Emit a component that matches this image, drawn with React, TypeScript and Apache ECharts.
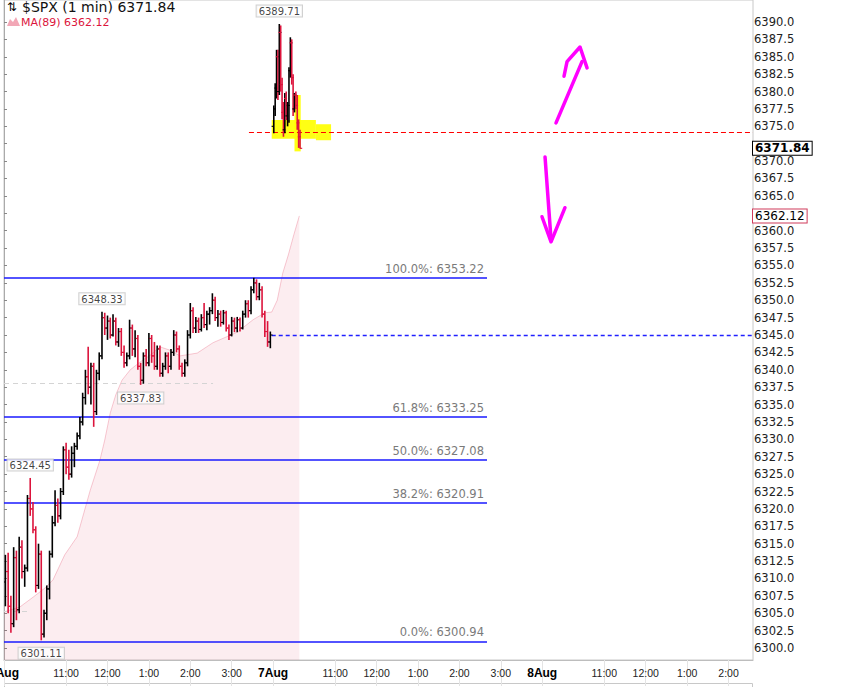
import * as echarts from "echarts";
import { useEffect, useRef } from "react";

// x = minutes since 6 Aug 9:30 (390 minutes per session, sessions back to back)
const xTickValues = [0, 90, 150, 210, 270, 330, 390, 480, 540, 600, 660, 720, 780, 870, 930, 990, 1050];
const xTickLabels = ["6Aug", "11:00", "12:00", "1:00", "2:00", "3:00", "7Aug", "11:00", "12:00", "1:00", "2:00", "3:00", "8Aug", "11:00", "12:00", "1:00", "2:00"];

const yTickValues = [
  6300, 6302.5, 6305, 6307.5, 6310, 6312.5, 6315, 6317.5, 6320, 6322.5, 6325, 6327.5, 6330,
  6332.5, 6335, 6337.5, 6340, 6342.5, 6345, 6347.5, 6350, 6352.5, 6355, 6357.5, 6360, 6362.5,
  6365, 6367.5, 6370, 6372.5, 6375, 6377.5, 6380, 6382.5, 6385, 6387.5, 6390
];
// labels hidden behind the price tags on the axis
const yHiddenLabels = [6372.5, 6362.5];

// [minute, open, high, low, close]
const bars: number[][] = [
  [2, 6309.5, 6313.4, 6306.0, 6311.0],
  [6, 6311.0, 6313.7, 6305.0, 6306.0],
  [10, 6306.0, 6307.5, 6302.2, 6303.5],
  [14, 6303.5, 6314.5, 6303.0, 6313.0],
  [18, 6313.0, 6314.0, 6304.0, 6305.5],
  [22, 6305.5, 6316.0, 6305.0, 6314.5],
  [26, 6314.5, 6315.5, 6310.0, 6311.0],
  [30, 6311.0, 6312.0, 6308.8, 6311.5],
  [34, 6311.5, 6322.0, 6311.0, 6321.5],
  [38, 6321.5, 6324.45, 6319.0, 6320.0],
  [42, 6320.0, 6321.0, 6316.5, 6317.0],
  [46, 6317.0, 6317.5, 6308.0, 6309.0],
  [50, 6309.0, 6315.0, 6308.5, 6313.5],
  [54, 6313.5, 6314.0, 6301.11, 6302.0],
  [58, 6302.0, 6305.5, 6301.5, 6305.0],
  [62, 6305.0, 6309.0, 6304.0, 6308.5],
  [66, 6308.5, 6314.0, 6307.0, 6313.5],
  [70, 6313.5, 6319.0, 6313.0, 6318.0],
  [74, 6318.0, 6322.7, 6317.5, 6320.5],
  [78, 6320.5, 6321.5, 6318.0, 6319.0],
  [82, 6319.0, 6323.0, 6318.5, 6322.5],
  [86, 6322.5, 6329.0, 6322.0, 6328.5],
  [90, 6328.5, 6329.5, 6325.0, 6326.0],
  [94, 6326.0, 6328.5, 6324.2, 6325.0],
  [98, 6325.0, 6329.0, 6324.5, 6328.0],
  [102, 6328.0, 6329.5, 6326.0, 6329.0],
  [106, 6329.0, 6331.0, 6328.5, 6330.5],
  [110, 6330.5, 6333.2, 6330.0, 6332.5],
  [114, 6332.5, 6336.7, 6332.0, 6336.0],
  [118, 6336.0, 6340.0, 6335.0, 6339.0],
  [122, 6339.0, 6343.3, 6336.5, 6337.5],
  [126, 6337.5, 6341.0, 6335.0, 6340.5],
  [130, 6340.5, 6341.0, 6331.8, 6334.0],
  [134, 6334.0, 6340.0, 6333.5, 6339.5],
  [138, 6339.5, 6342.5, 6338.5, 6342.0],
  [142, 6342.0, 6348.33, 6341.5, 6347.5],
  [146, 6347.5, 6348.2, 6345.0, 6346.0],
  [150, 6346.0, 6347.8, 6344.3, 6347.0],
  [154, 6347.0, 6347.5, 6344.5, 6345.0],
  [158, 6345.0, 6348.0, 6344.8, 6347.0],
  [162, 6347.0, 6347.5, 6343.5, 6344.0],
  [166, 6344.0, 6346.0, 6343.3, 6345.5],
  [170, 6345.5, 6346.0, 6342.0, 6342.5],
  [174, 6342.5, 6343.5, 6340.3, 6341.0],
  [178, 6341.0, 6342.5, 6340.5, 6342.0],
  [182, 6342.0, 6347.2, 6341.5, 6346.0],
  [186, 6346.0, 6346.5, 6342.0, 6343.0],
  [190, 6343.0, 6345.7, 6341.8, 6344.5],
  [194, 6344.5, 6345.0, 6340.0, 6340.5],
  [198, 6340.5, 6341.0, 6337.83, 6338.5],
  [202, 6338.5, 6342.5, 6338.0, 6342.0],
  [206, 6342.0, 6343.0, 6340.5, 6341.0],
  [210, 6341.0, 6345.3, 6340.5, 6344.5],
  [214, 6344.5, 6345.0, 6341.0, 6342.0],
  [218, 6342.0, 6344.0, 6340.0, 6340.5],
  [222, 6340.5, 6343.5, 6340.0, 6343.0],
  [226, 6343.0, 6343.5, 6339.0, 6339.5],
  [230, 6339.5, 6341.0, 6339.0, 6340.5],
  [234, 6340.5, 6342.5, 6340.0, 6342.0],
  [238, 6342.0, 6342.5, 6339.5, 6340.5],
  [242, 6340.5, 6343.0, 6340.0, 6342.5],
  [246, 6342.5, 6345.7, 6342.0, 6345.0],
  [250, 6345.0, 6345.5, 6342.5, 6343.0],
  [254, 6343.0, 6343.5, 6340.0, 6340.5],
  [258, 6340.5, 6341.0, 6339.0, 6339.5],
  [262, 6339.5, 6341.5, 6339.0, 6341.0],
  [266, 6341.0, 6345.7, 6340.5, 6345.0],
  [270, 6345.0, 6349.6, 6344.5, 6348.5],
  [274, 6348.5, 6349.0, 6345.3, 6346.0],
  [278, 6346.0, 6347.6, 6345.3, 6347.0],
  [282, 6347.0, 6347.5, 6345.3, 6345.8],
  [286, 6345.8, 6348.0, 6345.5, 6347.5],
  [290, 6347.5, 6349.6, 6346.0, 6346.5],
  [294, 6346.5, 6348.5, 6345.7, 6348.0],
  [298, 6348.0, 6349.0, 6346.5, 6348.5],
  [302, 6348.5, 6351.0, 6348.0, 6350.0],
  [306, 6350.0, 6350.5, 6347.0, 6347.5],
  [310, 6347.5, 6348.6, 6346.2, 6348.0],
  [314, 6348.0, 6348.5, 6346.2, 6346.8],
  [318, 6346.8, 6348.6, 6346.5, 6348.2],
  [322, 6348.2, 6348.5, 6345.5, 6346.0],
  [326, 6346.0, 6346.5, 6344.3, 6345.0],
  [330, 6345.0, 6347.6, 6344.8, 6347.0],
  [334, 6347.0, 6347.5, 6345.4, 6346.0],
  [338, 6346.0, 6347.6, 6345.4, 6347.2],
  [342, 6347.2, 6347.5, 6345.5, 6346.0],
  [346, 6346.0, 6348.5, 6345.8, 6348.0],
  [350, 6348.0, 6350.0, 6347.5, 6349.5],
  [354, 6349.5, 6350.0, 6347.5, 6348.5],
  [358, 6348.5, 6352.0, 6348.0, 6351.5],
  [362, 6351.5, 6353.22, 6351.0, 6352.5],
  [366, 6352.5, 6353.0, 6350.0, 6350.5],
  [370, 6350.5, 6352.5, 6350.0, 6351.5],
  [374, 6351.5, 6352.0, 6347.5, 6348.0],
  [378, 6348.0, 6348.5, 6344.7, 6345.5],
  [382, 6345.5, 6347.0, 6343.3, 6344.0],
  [386, 6344.0, 6345.5, 6343.1, 6345.0],
  [391, 6375.0, 6378.0, 6374.0, 6377.5],
  [393, 6377.5, 6381.2, 6376.5, 6380.5],
  [395, 6380.5, 6386.0, 6379.0, 6385.0],
  [397, 6385.0, 6386.0, 6378.8, 6380.0],
  [399, 6380.0, 6389.71, 6379.5, 6388.5],
  [401, 6388.5, 6389.5, 6380.0, 6381.0],
  [403, 6381.0, 6382.0, 6376.0, 6377.0],
  [405, 6377.0, 6378.5, 6373.5, 6374.5],
  [407, 6374.5, 6379.8, 6374.0, 6379.0],
  [409, 6379.0, 6380.0, 6375.9, 6376.5],
  [411, 6376.5, 6378.5, 6375.0, 6378.0],
  [413, 6378.0, 6383.5, 6375.5, 6383.0],
  [415, 6383.0, 6387.8, 6382.0, 6387.0],
  [417, 6387.0, 6387.5, 6381.0, 6382.0],
  [419, 6382.0, 6382.5, 6376.5, 6377.5],
  [421, 6377.5, 6379.8, 6377.0, 6379.5],
  [423, 6379.5, 6380.0, 6377.5, 6378.0],
  [425, 6378.0, 6379.5, 6374.5, 6375.5],
  [427, 6375.5, 6376.0, 6371.9, 6373.5],
  [429, 6373.5, 6374.5, 6371.8, 6371.84]
];

// MA(89), [minute, value]
const maPoints: number[][] = [
  [0, 6305.2], [23, 6305.9], [42, 6307.3], [59, 6308.6], [71, 6309.8], [88, 6313.4],
  [106, 6316.0], [125, 6322.7], [139, 6327.0], [146, 6329.9], [154, 6333.8], [162, 6336.4],
  [171, 6338.5], [183, 6340.0], [197, 6341.1], [212, 6342.1], [226, 6343.3], [241, 6342.8],
  [255, 6342.0], [280, 6342.4], [303, 6343.9], [338, 6345.4], [361, 6347.2], [378, 6348.2],
  [388, 6348.3], [396, 6350.0], [404, 6353.9], [412, 6356.5], [420, 6359.4], [428, 6362.12]
];

const fibLabels = ["100.0%", "61.8%", "50.0%", "38.2%", "0.0%"];
const fibValues = [6353.22, 6333.25, 6327.08, 6320.91, 6300.94];
const fibEnd = 700;

const extremeMinutes = [399, 142, 38, 54, 198];
const extremeValues = [6389.71, 6348.33, 6324.45, 6301.11, 6337.83];
const extremeSides = ["top", "top", "top", "bottom", "bottom"];

const lastPrice = 6371.84;
const maLast = 6362.12;
const prevClose = 6345.0;
const openLevel = 6374.2;
const grayLevels = [6338.1, 6305.3];
const grayEnds = [303, 35];

// hand-drawn annotations, [minute, value]
const upShaft = [[800, 6375.5], [837.7, 6384.3]];
const upHead = [[811.6, 6382.2], [816, 6384.3], [834.8, 6386.4], [845, 6383.4]];
const downShaft = [[784.1, 6370.6], [792.8, 6358.7]];
const downHead = [[779.7, 6362.0], [792.8, 6358.4], [813, 6363.3]];

const X_MAX = 1085.5;
const Y_MIN = 6298.28;
const Y_MAX = 6393.16;

export default function App() {
  const ref = useRef<HTMLDivElement | null>(null);

  useEffect(() => {
    if (!ref.current) {
      return;
    }

    const chart = echarts.init(ref.current, null, { renderer: "svg" });
    const arrowSeries = (data: number[][]) => ({
      type: "line",
      data,
      showSymbol: false,
      silent: true,
      z: 8,
      lineStyle: { color: "#ff00ff", width: 3.5, cap: "round", join: "round" }
    });
    const tag = (value: number, color: string, bold: boolean) => ({
      yAxis: value,
      label: {
        show: true,
        position: "end",
        distance: 0,
        formatter: value.toFixed(2),
        fontFamily: "DejaVu Sans",
        fontSize: 12,
        fontWeight: bold ? "bold" : "normal",
        color: "#000",
        backgroundColor: "#fff",
        borderColor: color,
        borderWidth: 1,
        padding: [1, 2, 0, 2]
      }
    });

    chart.setOption({
      animation: false,
      grid: {
        left: 4,
        right: 101,
        top: 0,
        bottom: 27,
        show: true,
        borderColor: "#c8c8c8",
        borderWidth: 1,
        outerBoundsMode: "none"
      },
      xAxis: {
        type: "value",
        min: 0,
        max: X_MAX,
        splitLine: { show: false },
        axisLine: { show: true, lineStyle: { color: "#bdbdbd" } },
        axisTick: { show: true, customValues: xTickValues, length: 26, lineStyle: { color: "#e4e4e4" } },
        axisLabel: {
          customValues: xTickValues,
          margin: 7,
          fontFamily: "Liberation Sans",
          fontSize: 10.5,
          color: "#222",
          formatter: (v: number) => {
            const i = xTickValues.findIndex((t) => Math.abs(t - v) < 0.01);
            const t = i >= 0 ? xTickLabels[i] : "";
            return t.includes("Aug") ? `{d|${t}}` : t;
          },
          rich: { d: { fontFamily: "Liberation Sans", fontWeight: "bold", fontSize: 12, color: "#000" } }
        }
      },
      yAxis: {
        type: "value",
        position: "right",
        min: Y_MIN,
        max: Y_MAX,
        splitLine: { show: false },
        axisLine: { show: true, lineStyle: { color: "#aaaaaa" } },
        axisTick: { show: true, customValues: yTickValues, length: 3, lineStyle: { color: "#888" } },
        axisLabel: {
          customValues: yTickValues.filter((v) => !yHiddenLabels.includes(v)),
          margin: 1,
          fontFamily: "DejaVu Sans",
          fontSize: 11.5,
          color: "#222",
          formatter: (v: number) => v.toFixed(1)
        }
      },
      graphic: [
        { type: "text", left: 7, top: 1, style: { text: "⇅", fontFamily: "DejaVu Sans", fontSize: 12, fill: "#000" } },
        { type: "text", left: 22, top: 0, style: { text: "$SPX (1 min) 6371.84", fontFamily: "DejaVu Sans", fontSize: 14, fill: "#111" } },
        { type: "polygon", shape: { points: [[7, 26], [10, 19], [13, 22], [16, 17], [20, 26]] }, style: { fill: "#f2a7b6" } },
        { type: "text", left: 21, top: 17, style: { text: "MA(89) 6362.12", fontFamily: "DejaVu Sans", fontSize: 11, fill: "#dc143c" } },
        { type: "rect", shape: { x: 4.5, y: 683.5, width: 748, height: 12 }, style: { fill: "none", stroke: "#c8c8c8" } }
      ],
      series: [
        {
          name: "MA(89)",
          type: "line",
          data: maPoints,
          showSymbol: false,
          silent: true,
          z: 1,
          lineStyle: { color: "rgba(220,20,60,0.22)", width: 1 },
          areaStyle: { color: "rgba(220,20,60,0.11)", origin: "start" },
          markArea: {
            silent: true,
            itemStyle: { color: "rgba(255,255,0,0.92)" },
            data: [
              [{ coord: [388, 6373.2] }, { coord: [452, 6375.9] }],
              [{ coord: [452, 6373.0] }, { coord: [474, 6375.3] }],
              [{ coord: [421, 6371.4] }, { coord: [430, 6379.5] }]
            ]
          }
        },
        {
          name: "levels",
          type: "line",
          data: [],
          silent: true,
          z: 2,
          markLine: {
            silent: true,
            symbol: ["none", "none"],
            data: [
              ...fibValues.map((v, i) => [
                {
                  coord: [0, v],
                  lineStyle: { color: "#1a1aff", width: 1.5, type: "solid" },
                  label: {
                    show: true,
                    position: "insideEndTop",
                    distance: 3,
                    formatter: `${fibLabels[i]}: ${v.toFixed(2)}`,
                    fontFamily: "DejaVu Sans",
                    fontSize: 11.5,
                    color: "#7a7a7a"
                  }
                },
                { coord: [fibEnd, v] }
              ]),
              ...grayLevels.map((v, i) => [
                { coord: [0, v], lineStyle: { color: "#d4d4d4", width: 1, type: [5, 4] }, label: { show: false } },
                { coord: [grayEnds[i], v] }
              ]),
              [
                { coord: [355, openLevel], lineStyle: { color: "#ff0000", width: 1.2, type: [5, 3] }, label: { show: false } },
                { coord: [X_MAX, openLevel] }
              ],
              [
                { coord: [388, prevClose], lineStyle: { color: "#2020ff", width: 1.3, type: [4, 3] }, label: { show: false } },
                { coord: [X_MAX, prevClose] }
              ]
            ]
          }
        },
        {
          name: "$SPX",
          type: "custom",
          data: bars,
          encode: { x: 0, y: [1, 2, 3, 4] },
          clip: true,
          z: 5,
          renderItem: (_params: any, api: any) => {
            const m = api.value(0);
            const o = api.coord([m, api.value(1)]);
            const h = api.coord([m, api.value(2)]);
            const l = api.coord([m, api.value(3)]);
            const c = api.coord([m, api.value(4)]);
            const color = api.value(4) >= api.value(1) ? "#000000" : "#dc143c";
            return {
              type: "group",
              children: [
                { type: "line", shape: { x1: h[0], y1: h[1], x2: l[0], y2: l[1] }, style: { stroke: color, lineWidth: 1.6 } },
                { type: "line", shape: { x1: o[0] - 2.2, y1: o[1], x2: o[0], y2: o[1] }, style: { stroke: color, lineWidth: 1.1 } },
                { type: "line", shape: { x1: c[0], y1: c[1], x2: c[0] + 2.2, y2: c[1] }, style: { stroke: color, lineWidth: 1.1 } }
              ]
            };
          }
        },
        {
          name: "extremes",
          type: "scatter",
          data: extremeMinutes.map((m, i) => ({
            value: [m, extremeValues[i]],
            label: { position: extremeSides[i] }
          })),
          symbolSize: 1,
          silent: true,
          z: 6,
          itemStyle: { color: "rgba(0,0,0,0)" },
          label: {
            show: true,
            distance: 7,
            formatter: (p: any) => extremeValues[p.dataIndex].toFixed(2),
            fontFamily: "DejaVu Sans",
            fontSize: 10,
            color: "#111",
            backgroundColor: "#fff",
            borderColor: "#c4c4c4",
            borderWidth: 1,
            padding: [1, 2, 0, 2]
          }
        },
        {
          name: "tags",
          type: "line",
          data: [],
          silent: true,
          z: 9,
          markLine: {
            silent: true,
            symbol: ["none", "none"],
            lineStyle: { color: "rgba(0,0,0,0)", width: 1 },
            data: [tag(lastPrice, "#000", true), tag(maLast, "#d03a5a", false)]
          }
        },
        arrowSeries(upShaft),
        arrowSeries(upHead),
        arrowSeries(downShaft),
        arrowSeries(downHead)
      ]
    });

    return () => {
      chart.dispose();
    };
  }, []);

  return <div ref={ref} style={{ position: "fixed", left: 0, top: 0, width: 854, height: 687, background: "#fff" }} />;
}
